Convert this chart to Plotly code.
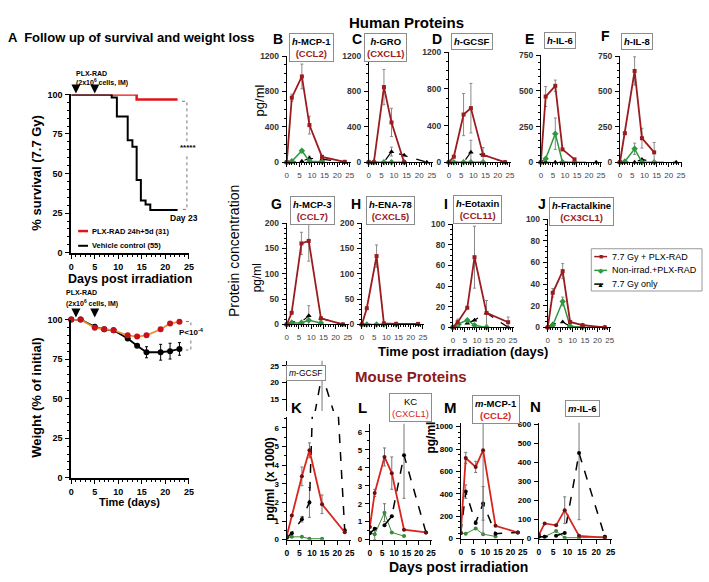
import plotly.graph_objects as go

W, H = 709, 582
FONT = "Liberation Sans, Arial, sans-serif"

# ---------------- Panel A data ----------------
surv_plx_days = [0, 13.9, 22.6]
surv_plx_pct = [100, 96.8, 96.8]
surv_veh_days = [0, 8.6, 9.7, 12.0, 13.0, 13.9, 14.8, 15.8, 16.8, 22.6]
surv_veh_pct = [100, 98, 86, 71, 67, 46, 33, 30.5, 27, 27]

weight_days = [0, 2, 5, 7, 9, 12, 14, 16, 19, 21, 23]
weight_plx = [100, 100, 94.8, 93.8, 93.2, 90, 89.2, 90, 93.8, 97.5, 98.5]
weight_veh = [100, 100, 95.4, 93.8, 93.2, 88, 83.4, 79.3, 79.3, 80, 81.4]
weight_veh_err = [0, 0, 0, 0, 0, 1, 1, 3.5, 5, 5, 4]

# ---------------- Human proteins (pg/ml) ----------------
human_days = [0, 2, 6, 9, 14, 23]

B_red = [0, 730, 970, 420, 60, 5]
B_red_err = [0, 40, 140, 100, 20, 0]
B_green = [0, 10, 130, 10, 5, None]
B_black = [0, 0, 10, 45, 35, 0]
B_black_err = [0, 0, 0, 25, 0, 0]

C_red = [0, 0, 850, 450, 0, None]
C_red_err = [0, 0, 200, 160, 0, 0]
C_green = [0, 0, 0, 0, 0, None]
C_black = [0, 0, 0, 120, 80, 0]
C_black_err = [0, 0, 0, 50, 0, 0]

D_red = [0, 60, 520, 590, 80, 0]
D_red_err = [0, 0, 230, 270, 80, 0]
D_green = [0, 0, 0, 0, 0, None]
D_black = [0, 0, 0, 110, 80, 0]
D_black_err = [0, 0, 0, 130, 0, 0]

E_red = [0, 460, 535, 90, 20, None]
E_red_err = [0, 70, 40, 0, 0, 0]
E_green = [0, 25, 200, 0, 0, None]
E_green_err = [0, 0, 110, 0, 0, 0]
E_black = [0, 0, 0, 0, 0, 0]

F_red = [0, 205, 645, 170, 70, None]
F_red_err = [0, 0, 100, 70, 70, 0]
F_green = [0, 5, 95, 0, 0, None]
F_green_err = [0, 0, 40, 0, 0, 0]
F_black = [0, 0, 0, 20, 0, 0]

G_red = [0, 23, 160, 165, 12, 0]
G_red_err = [0, 0, 22, 40, 0, 0]
G_green = [0, 3, 3, 8, 3, None]
G_black = [0, 5, 5, 17, 12, 0]
G_black_err = [0, 0, 0, 20, 0, 0]

H_red = [0, 32, 135, 2, 1, 1]
H_red_err = [0, 0, 22, 0, 0, 0]
H_green = [0, 0, 0, 0, 0, None]
H_black = [0, 0, 0, 0, 0, 0]

I_red = [0, 5, 19, 68, 14, 5]
I_red_err = [0, 3, 0, 30, 12, 5]
I_green = [0, 3, 7, 2, 0, None]
I_black = [0, 2, 4, 7, 14, 0]
I_black_err = [0, 0, 0, 0, 12, 0]

J_red = [0, 32, 52, 5, 2, 0]
J_red_err = [0, 4, 7, 0, 0, 0]
J_green = [0, 2, 24, 1, 0, None]
J_green_err = [0, 0, 4, 0, 0, 0]
J_black = [0, 3, 5, 1, 2, 0]

# ---------------- Mouse proteins ----------------
mouse_days = [0, 2, 6, 9, 14, 23]

K_red = [0.2, 1.3, 3.4, 4.8, 1.9, 0.4]
K_red_err = [0, 0, 0.5, 0.4, 0.5, 0]
K_green = [0.1, 0.15, 0.15, 0.05, 0.05, None]
K_black = [0.1, 0.35, 1.1, 2.0, 22.5, 0.5]
K_black_err = [0, 0, 0.15, 0.8, 12, 0]

L_red = [0.7, 2.6, 4.6, 3.7, 0.55, 0.4]
L_red_err = [0, 0.2, 0.5, 0.9, 0, 0]
L_green = [0.4, 0.3, 1.5, 0.4, 0.2, None]
L_green_err = [0, 0.3, 0.5, 0, 0, 0]
L_black = [0.35, 0.6, 0.8, 1.3, 4.7, 0.4]
L_black_err = [0, 0, 0, 0, 2.4, 0]

M_red = [50, 720, 640, 790, 115, 55]
M_red_err = [0, 50, 50, 750, 0, 0]
M_green = [50, 45, 90, 40, 20, None]
M_black = [50, 420, 140, 315, 45, 55]
M_black_err = [0, 60, 0, 150, 0, 0]

N_red = [20, 80, 70, 150, 15, 5]
N_red_err = [0, 0, 0, 70, 0, 0]
N_green = [10, 10, 40, 5, 5, 10]
N_black = [10, 10, 15, 30, 450, 10]
N_black_err = [0, 0, 0, 0, 350, 0]

day_ticks = [0, 5, 10, 15, 20, 25]

# ---------------- colours ----------------
RED_A = "#E3151C"
ORANGE_A = "#E8912E"
RED_H = "#9B1B1F"
GREEN_H = "#2E9A3E"
RED_M = "#D8261F"
GREEN_M = "#3A8A3A"
DARKRED_TXT = "#8B1A1A"

fig = go.Figure()
axes = {}
ann = []
shapes = []


def ids(i):
    return ("x", "y") if i == 1 else (f"x{i}", f"y{i}")


def make_axes(i, x0, x1, y0, y1, xr, yr, yt, xt=day_ticks, xfont=None, yfont=None,
              xminor=None, yminor=None, showx=True, lw=1.2):
    xid, yid = ids(i)
    kx = "xaxis" if i == 1 else f"xaxis{i}"
    ky = "yaxis" if i == 1 else f"yaxis{i}"
    common = dict(showgrid=False, zeroline=False, showline=True, linecolor="black",
                  linewidth=lw, ticks="outside", ticklen=4, tickwidth=1,
                  tickcolor="black", fixedrange=True, tickangle=0)
    xa = dict(domain=[x0 / W, x1 / W], anchor=yid, range=xr, tickvals=list(xt),
              tickfont=xfont, visible=showx, ticklabelstandoff=1, **common)
    if xminor:
        xa["minor"] = dict(ticks="outside", ticklen=2, dtick=xminor, tickcolor="black")
    ya = dict(domain=[1 - y1 / H, 1 - y0 / H], anchor=xid, range=yr, tickvals=list(yt),
              tickfont=yfont, ticklabelstandoff=1, **common)
    if yminor:
        ya["minor"] = dict(ticks="outside", ticklen=2, dtick=yminor, tickcolor="black")
    axes[kx] = xa
    axes[ky] = ya
    return xid, yid


def series(xid, yid, x, y, color, dash="solid", width=1.5, symbol="circle", msize=4,
           mcolor=None, err=None, errcolor="#8a8a8a", clip=False, shape="linear",
           mode="lines+markers"):
    tr = go.Scatter(x=x, y=y, xaxis=xid, yaxis=yid, mode=mode,
                    line=dict(color=color, dash=dash, width=width, shape=shape),
                    marker=dict(symbol=symbol, size=msize, color=mcolor or color),
                    showlegend=False, cliponaxis=clip,
                    connectgaps=False, hoverinfo="skip")
    if err is not None:
        tr.error_y = dict(type="data", array=err, visible=True, color=errcolor,
                          thickness=1, width=1.5)
    fig.add_trace(tr)


def text(x, y, s, size=10, bold=False, color="black", xanchor="center",
         yanchor="middle", angle=0, **kw):
    ann.append(dict(x=x / W, y=1 - y / H, xref="paper", yref="paper", text=s,
                    showarrow=False, xanchor=xanchor, yanchor=yanchor, textangle=angle,
                    font=dict(size=size, color=color, family=FONT,
                              weight="bold" if bold else "normal"), **kw))


def P(x, y):
    return f"{x / W:.5f},{1 - y / H:.5f}"


def hline(x0, x1, y, color, width=1.5, dash="solid"):
    shapes.append(dict(type="line", xref="paper", yref="paper", x0=x0 / W, x1=x1 / W,
                       y0=1 - y / H, y1=1 - y / H,
                       line=dict(color=color, width=width, dash=dash)))


BOLD9 = dict(size=9, family=FONT, color="black", weight="bold")
HTICK = dict(size=8, family=FONT, color="#444")
HYTICK = dict(size=8.5, family=FONT, color="#333", weight="bold")

# ======================= Panel A =======================
xs, ys = make_axes(1, 69, 188, 91, 252, [0, 25], [0, 100], [0, 25, 50, 75, 100],
                   xfont=BOLD9, yfont=BOLD9, xminor=1, yminor=5, lw=1.8)
series(xs, ys, surv_plx_days, surv_plx_pct, RED_A, width=2.5, shape="hv", mode="lines")
series(xs, ys, surv_veh_days, surv_veh_pct, "black", width=2, shape="hv", mode="lines")

xw, yw = make_axes(2, 69, 188, 320, 481, [0, 25], [0, 100], [0, 25, 50, 75, 100],
                   xfont=BOLD9, yfont=BOLD9, xminor=1, yminor=5, lw=1.8)
series(xw, yw, weight_days, weight_veh, "black", width=1.8, msize=6,
       err=weight_veh_err, errcolor="black")
series(xw, yw, weight_days, weight_plx, ORANGE_A, width=1.8, msize=6, mcolor="#C8101A")

text(3, 33, "A  Follow up of survival and weight loss", size=13, bold=True, xanchor="left")
text(33, 171, "% survival (7.7 Gy)", size=13, bold=True, angle=-90)
text(128, 279, "Days post irradiation", size=12.5, bold=True)
text(33, 400, "Weight (% of initial)", size=13, bold=True, angle=-90)
text(128, 506, "Time (days)", size=11, bold=True)

# survival legend
hline(76, 86, 230, RED_A, width=2.5)
text(88, 230, "PLX-RAD 24h+5d (31)", size=7.5, bold=True, xanchor="left")
hline(76, 86, 245, "black", width=2)
text(88, 245, "Vehicle control (55)", size=7.5, bold=True, xanchor="left")

text(72, 70, "PLX-RAD", size=7, bold=True, xanchor="left")
text(72, 79, "(2x10<sup>6</sup> cells, IM)", size=7, bold=True, xanchor="left")
text(62, 293, "PLX-RAD", size=7, bold=True, xanchor="left")
text(62, 304, "(2x10<sup>6</sup> cells, IM)", size=7, bold=True, xanchor="left")
for d in (1, 5):
    ann.append(dict(x=d, xref="x", y=1 - 90 / H, yref="paper", text="", showarrow=True,
                    ax=0, ay=-8, arrowhead=2, arrowsize=0.9, arrowwidth=2, arrowcolor="black"))
    ann.append(dict(x=d, xref="x2", y=1 - 318 / H, yref="paper", text="", showarrow=True,
                    ax=0, ay=-8, arrowhead=2, arrowsize=0.9, arrowwidth=2, arrowcolor="black"))

shapes.append(dict(type="path", xref="paper", yref="paper",
                   path=f"M {P(181, 98)} L {P(186, 98)} L {P(186, 208)} L {P(181, 208)}",
                   line=dict(color="#777", width=1, dash="dot")))
text(187, 145, "*****", size=8, bold=True, bgcolor="white")
text(183, 217, "Day 23", size=8.5, bold=True)
shapes.append(dict(type="path", xref="paper", yref="paper",
                   path=f"M {P(185, 322)} L {P(190, 322)} L {P(190, 351)} L {P(185, 351)}",
                   line=dict(color="#777", width=1, dash="dot")))
text(191, 333, "P<10<sup>-4</sup>", size=8, bold=True, bgcolor="white")

# ======================= Human proteins =======================
text(408, 18, "Human Proteins", size=15, bold=True)
text(259, 97, "pg/ml", size=13, angle=-90)
text(233, 250, "Protein concentration", size=14, angle=-90)
text(257, 278, "pg/ml", size=12, angle=-90)
text(465, 353, "Time post irradiation (days)", size=13, bold=True)

human_panels = [
    (3, 287, 352, 52, 160, [0, 1200], [0, 400, 800, 1200], 100,
     B_red, B_red_err, B_green, None, B_black, B_black_err),
    (4, 370, 435, 52, 160, [0, 1200], [0, 400, 800, 1200], 100,
     C_red, C_red_err, C_green, None, C_black, C_black_err),
    (5, 451, 514, 48, 160, [0, 1200], [0, 400, 800, 1200], 100,
     D_red, D_red_err, D_green, None, D_black, D_black_err),
    (6, 544, 606, 51, 160, [0, 750], [0, 250, 500, 750], 50,
     E_red, E_red_err, E_green, E_green_err, E_black, None),
    (7, 624, 687, 52, 160, [0, 750], [0, 250, 500, 750], 50,
     F_red, F_red_err, F_green, F_green_err, F_black, None),
    (8, 287, 350, 222, 325, [0, 200], [0, 50, 100, 150, 200], 10,
     G_red, G_red_err, G_green, None, G_black, G_black_err),
    (9, 363, 426, 222, 325, [0, 200], [0, 50, 100, 150, 200], 10,
     H_red, H_red_err, H_green, None, H_black, None),
    (10, 455, 517, 223, 328, [0, 100], [0, 20, 40, 60, 80, 100], 5,
     I_red, I_red_err, I_green, None, I_black, I_black_err),
    (11, 551, 615, 218, 328, [0, 100], [0, 20, 40, 60, 80, 100], 5,
     J_red, J_red_err, J_green, J_green_err, J_black, None),
]

for (i, x0, x1, y0, y1, yr, yt, ymin, red, red_err, green, green_err, black,
     black_err) in human_panels:
    xa, ya = make_axes(i, x0, x1, y0, y1, [0, 25.5], yr, yt, xfont=HTICK, yfont=HYTICK,
                       xminor=1, yminor=ymin, lw=1)
    series(xa, ya, human_days, black, "black", dash="dash", width=1.2, symbol="triangle-up",
           msize=5, err=black_err)
    series(xa, ya, human_days, green, GREEN_H, width=1.5, symbol="diamond", msize=5,
           err=green_err)
    series(xa, ya, human_days, red, RED_H, width=1.8, symbol="square", msize=4,
           err=red_err)

# human legend (drawn as key)
shapes.append(dict(type="rect", xref="paper", yref="paper", x0=595 / W, x1=707 / W,
                   y0=1 - 291 / H, y1=1 - 248 / H, line=dict(color="#999", width=1),
                   fillcolor="white", layer="above"))
for yy, col, dsh, sym, lab in [(256, RED_H, "solid", "■", "7.7 Gy + PLX-RAD"),
                               (270, GREEN_H, "solid", "◆", "Non-irrad.+PLX-RAD"),
                               (284, "black", "dash", "▲", "7.7 Gy only")]:
    hline(598, 611, yy, col, width=1.5, dash=dsh)
    shapes[-1]["layer"] = "above"
    text(604.5, yy, sym, size=7, color=col)
    text(614, yy, lab, size=9, xanchor="left")

# panel letters and titles (human)
for lab, x, y in [("B", 278, 35), ("C", 358, 35), ("D", 439, 35), ("E", 533, 35),
                  ("F", 609, 32), ("G", 277, 202), ("H", 357, 202), ("I", 448, 202),
                  ("J", 545, 202)]:
    text(x, y, lab, size=14, bold=True)

RED_SPAN = f"<span style='color:{RED_H}'>"
box = dict(bordercolor="#8c8c8c", borderwidth=1, borderpad=2, bgcolor="white")
text(312, 43, f"<i>h</i>-MCP-1<br>{RED_SPAN}(CCL2)</span>", size=9.5, bold=True, **box)
text(387, 43, f"<i>h</i>-GRO<br>{RED_SPAN}(CXCL1)</span>", size=9.5, bold=True, **box)
text(474, 37, "<i>h</i>-GCSF", size=9.5, bold=True, **box)
text(563, 36, "<i>h</i>-IL-6", size=9.5, bold=True, **box)
text(641, 37, "<i>h</i>-IL-8", size=9.5, bold=True, **box)
text(313, 209, f"<i>h</i>-MCP-3<br>{RED_SPAN}(CCL7)</span>", size=9.5, bold=True, **box)
text(392, 209, f"<i>h</i>-ENA-78<br>{RED_SPAN}(CXCL5)</span>", size=9.5, bold=True, **box)
text(480, 208, f"<i>h</i>-Eotaxin<br>{RED_SPAN}(CCL11)</span>", size=9.5, bold=True, **box)
text(585, 210, f"<i>h</i>-Fractalkine<br>{RED_SPAN}(CX3CL1)</span>", size=9.5, bold=True, **box)

# ======================= Mouse proteins =======================
text(413, 378, "Mouse Proteins", size=15, bold=True, color=DARKRED_TXT)
text(270, 482, "pg/ml  (x 1000)", size=12, bold=True, angle=-90)
text(433, 440, "pg/ml", size=12, bold=True, angle=-90)
text(461, 572, "Days post irradiation", size=14, bold=True)

MX = dict(size=8.5, family=FONT, color="black", weight="bold")
MY = dict(size=8, family=FONT, color="black", weight="bold")

xk, yk = make_axes(12, 287, 352, 419, 544, [0, 25.5], [0, 6.6], [0, 1, 2, 3, 4, 5, 6],
                   xfont=MX, yfont=MY, yminor=0.5)
xku, yku = make_axes(13, 287, 352, 362, 413, [0, 25.5], [11.5, 26.5], [15, 20, 25],
                     xfont=MX, yfont=MY, showx=False)
series(xk, yk, mouse_days, K_green, GREEN_M, width=1, msize=4, clip=True)
series(xk, yk, mouse_days, K_black, "black", dash="dash", width=1.5, msize=4,
       err=K_black_err, errcolor="#777", clip=True)
series(xk, yk, mouse_days, K_red, RED_M, width=1.8, msize=4, mcolor="#6b1010",
       err=K_red_err, errcolor="#777", clip=True)
series(xku, yku, mouse_days, K_black, "black", dash="dash", width=1.5, msize=4,
       err=K_black_err, errcolor="#777", clip=True)
text(306, 374, "<i>m</i>-GCSF", size=8.5, **box)

xl, yl = make_axes(14, 371, 434, 426, 544, [0, 25.5], [0, 6.45], [0, 1, 2, 3, 4, 5, 6],
                   xfont=MX, yfont=MY, yminor=0.5)
series(xl, yl, mouse_days, L_green, GREEN_M, width=1, msize=4, err=L_green_err,
       errcolor="#777", clip=True)
series(xl, yl, mouse_days, L_black, "black", dash="dash", width=1.5, msize=4,
       err=L_black_err, errcolor="#777", clip=True)
series(xl, yl, mouse_days, L_red, RED_M, width=1.8, msize=4, mcolor="#6b1010",
       err=L_red_err, errcolor="#777", clip=True)
text(412, 410, f"KC<br><span style='color:{RED_M}'>(CXCL1)</span>", size=9.5, **box)

xm, ym = make_axes(15, 463, 527, 425, 543, [0, 25.5], [0, 1035],
                   [0, 200, 400, 600, 800, 1000], xfont=MX, yfont=MY, yminor=50)
series(xm, ym, mouse_days, M_green, GREEN_M, width=1, msize=4, clip=True)
series(xm, ym, mouse_days, M_black, "black", dash="dash", width=1.5, msize=4,
       err=M_black_err, errcolor="#777", clip=True)
series(xm, ym, mouse_days, M_red, RED_M, width=1.8, msize=4, mcolor="#6b1010",
       err=M_red_err, errcolor="#777", clip=True)
text(499, 412, f"<i>m</i>-MCP-1<br><span style='color:{RED_M}'>(CCL2)</span>", size=9.5,
     bold=True, **box)

xn, yn = make_axes(16, 542, 616, 425, 543, [0, 25.5], [0, 610],
                   [0, 100, 200, 300, 400, 500, 600], xfont=MX, yfont=MY)
series(xn, yn, mouse_days, N_green, GREEN_M, width=1, msize=4, clip=True)
series(xn, yn, mouse_days, N_black, "black", dash="dash", width=1.5, msize=4,
       err=N_black_err, errcolor="#777", clip=True)
series(xn, yn, mouse_days, N_red, RED_M, width=1.8, msize=4, mcolor="#6b1010",
       err=N_red_err, errcolor="#777", clip=True)
text(586, 411, "<i>m</i>-IL-6", size=9.5, bold=True, **box)

for lab, x, y in [("K", 297, 410), ("L", 364, 410), ("M", 453, 410), ("N", 539, 409)]:
    text(x, y, lab, size=15, bold=True)

fig.update_layout(
    width=W, height=H, autosize=False,
    margin=dict(l=0, r=0, t=0, b=0),
    paper_bgcolor="white", plot_bgcolor="rgba(0,0,0,0)",
    font=dict(family=FONT, color="black"),
    annotations=ann, shapes=shapes, showlegend=False,
    **axes,
)

fig.write_html("out.html", config={"displayModeBar": False},
               post_script="document.body.style.margin='0';document.body.style.overflow='hidden';")
